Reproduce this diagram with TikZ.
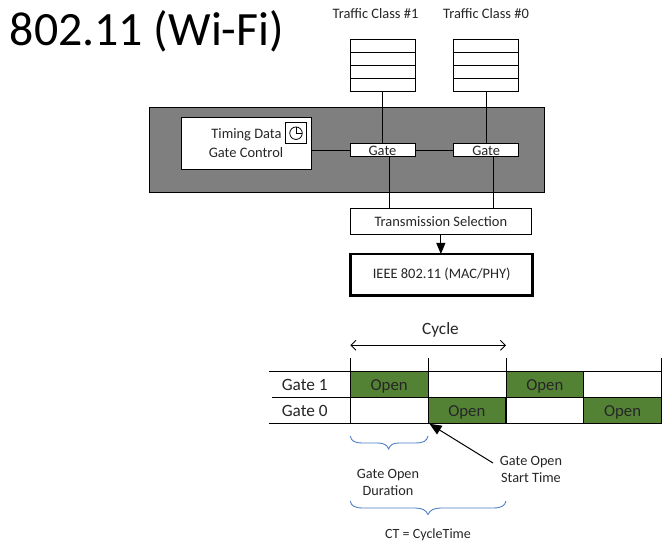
\documentclass[tikz,border=0pt]{standalone}
\usepackage{fontspec}
\setmainfont{Carlito}
\usetikzlibrary{arrows.meta,calc}
\definecolor{ink}{HTML}{262626}
\definecolor{panel}{HTML}{7F7F7F}
\definecolor{opengreen}{HTML}{548235}
\definecolor{bracecol}{HTML}{4F81C9}
\tikzset{
  x=1bp,y=-1bp,
  every node/.style={inner sep=0pt,outer sep=0pt,text=ink},
  box/.style={draw=black,fill=white,line width=0.9bp,anchor=north west,font=\fontsize{14.5}{16}\selectfont},
  lbl/.style={font=\fontsize{14.5}{16}\selectfont,align=center},
  biglbl/.style={font=\fontsize{17.3}{19}\selectfont,align=center},
  cell/.style={draw=black,fill=opengreen,line width=0.9bp,anchor=north west,minimum width=77.7bp,minimum height=26bp,text height=11.4bp,text depth=0bp,font=\fontsize{16.8}{19}\selectfont},
  wire/.style={draw=black,line width=0.9bp},
  brc/.style={draw=bracecol,line width=0.9bp}
}
\begin{document}
\begin{tikzpicture}
\useasboundingbox (0,0) rectangle (662,541);
\fill[white] (0,0) rectangle (662,541);
% title
\node[anchor=center,font=\fontsize{48}{54}\selectfont,text=black] (title) at (147,31) {802.11 (Wi-Fi)};
\node[lbl] (tc1) at (375.5,14) {Traffic Class \#1};
\node[lbl] (tc0) at (486,14) {Traffic Class \#0};
% queues
\node[box,minimum width=65bp,minimum height=52bp] (q1) at (350,39.5) {};
\node[box,minimum width=65bp,minimum height=52bp] (q0) at (453.7,39.5) {};
\foreach \q in {q1,q0}{
  \foreach \f in {0.25,0.5,0.75}{
    \draw[wire] ($(\q.north west)!\f!(\q.south west)$) -- ($(\q.north east)!\f!(\q.south east)$);
  }
}
% panel
\node[draw=black,fill=panel,line width=0.9bp,anchor=north west,minimum width=395.2bp,minimum height=84.6bp] (panel) at (149.5,107.7) {};
\node[box,minimum width=130bp,minimum height=52bp] (ctl) at (181.7,117.3) {};
\node[lbl,anchor=center] (td) at (246.5,134.5) {Timing Data};
\node[lbl,anchor=center] (gc) at (246,152.5) {Gate Control};
\node[draw=black,line width=0.9bp,fill=white,anchor=north west,minimum width=20.6bp,minimum height=21bp] (clk) at (285.7,122.7) {};
\node[draw=black,line width=0.8bp,circle,minimum size=12.5bp] (dial) at (clk.center) {};
\draw[line width=0.8bp] (dial.north) -- (dial.center) -- (dial.east);
\node[box,minimum width=65bp,minimum height=13bp] (g1) at (350,143.7) {};
\node[lbl,anchor=center] at ([yshift=-0.5bp]g1.center) {Gate};
\node[box,minimum width=65bp,minimum height=13bp] (g0) at (453.7,143.7) {};
\node[lbl,anchor=center] at ([yshift=-0.5bp]g0.center) {Gate};
% wires
\draw[wire] (q1.south) -- (g1.north);
\draw[wire] (q0.south) -- (g0.north);
\draw[wire] (ctl.east |- g1.west) -- (g1.west);
\draw[line width=1.3bp] (g1.east) -- (g0.west);
% lower boxes
\node[box,minimum width=181.7bp,minimum height=26bp] (ts) at (350,208.3) {Transmission Selection};
\node[draw=black,fill=white,line width=2.8bp,anchor=north west,minimum width=182bp,minimum height=41.3bp,font=\fontsize{14.5}{16}\selectfont] (ieee) at (350.7,254) {IEEE 802.11 (MAC/PHY)};
\coordinate (g1o) at ([xshift=6.8bp]g1.south);
\coordinate (g0o) at ([xshift=6.8bp]g0.south);
\draw[wire] (g1o) -- (g1o |- ts.north);
\draw[wire] (g0o) -- (g0o |- ts.north);
\draw[wire,-{Triangle[length=11bp,width=9bp]}] (ts.south) -- (ts.south |- ieee.north);
% timing chart
\node[biglbl] (cy) at (440.5,329.5) {Cycle};
\coordinate (c0) at (350.3,345.3);
\coordinate (c1) at (506,345.3);
\draw[wire,{Straight Barb[length=5bp,width=10bp]}-{Straight Barb[length=5bp,width=10bp]}] (c0) -- (c1);
\node[cell] (o1) at (350.3,371.3) {Open};
\node[cell] (o2) at (428,397.3) {Open};
\node[cell] (o3) at (506,371.3) {Open};
\node[cell] (o4) at (583.7,397.3) {Open};
\draw[wire] (269,371.3) -- (661,371.3);
\draw[wire] (272,397.3) -- (661,397.3);
\draw[wire] (269,423.3) -- (661,423.3);
\foreach \x in {350.3,428,506}{\draw[wire] (\x,358.3) -- (\x,423.3);}
\draw[wire] (583.7,371.3) -- (583.7,423.3);
\draw[wire] (661,358.3) -- (661,423.3);
\node[biglbl] (g1l) at (304.7,384.5) {Gate 1};
\node[biglbl] (g0l) at (304.7,410.5) {Gate 0};
% start time callout
\node[lbl,font=\fontsize{14.3}{17}\selectfont] (st) at (531,469) {Gate Open\\Start Time};
\coordinate (tip) at (429.5,423.8);
\coordinate (tail) at (493,463);
\draw[line width=1bp,-{Triangle[length=12bp,width=10bp]}] (tail) -- (tip);
% braces
\draw[brc] (350.3,436) .. controls (351,441) and (355,443) .. (362,443) -- (378,443) .. controls (384,443) and (387,445) .. (388.6,449) .. controls (390,445) and (393,443) .. (399,443) -- (416,443) .. controls (423,443) and (427,441) .. (428,436);
\draw[brc] (350.3,501) .. controls (351,506) and (355,508) .. (363,508) -- (415,508) .. controls (422,508) and (426,510) .. (428,514.5) .. controls (430,510) and (434,508) .. (441,508) -- (493,508) .. controls (501,508) and (505,506) .. (506,501);
\node[lbl,font=\fontsize{14.3}{17}\selectfont] (god) at (388,482) {Gate Open\\Duration};
\node[lbl,font=\fontsize{14.1}{16}\selectfont] (ct) at (428,534.5) {CT = CycleTime};
\end{tikzpicture}
\end{document}
